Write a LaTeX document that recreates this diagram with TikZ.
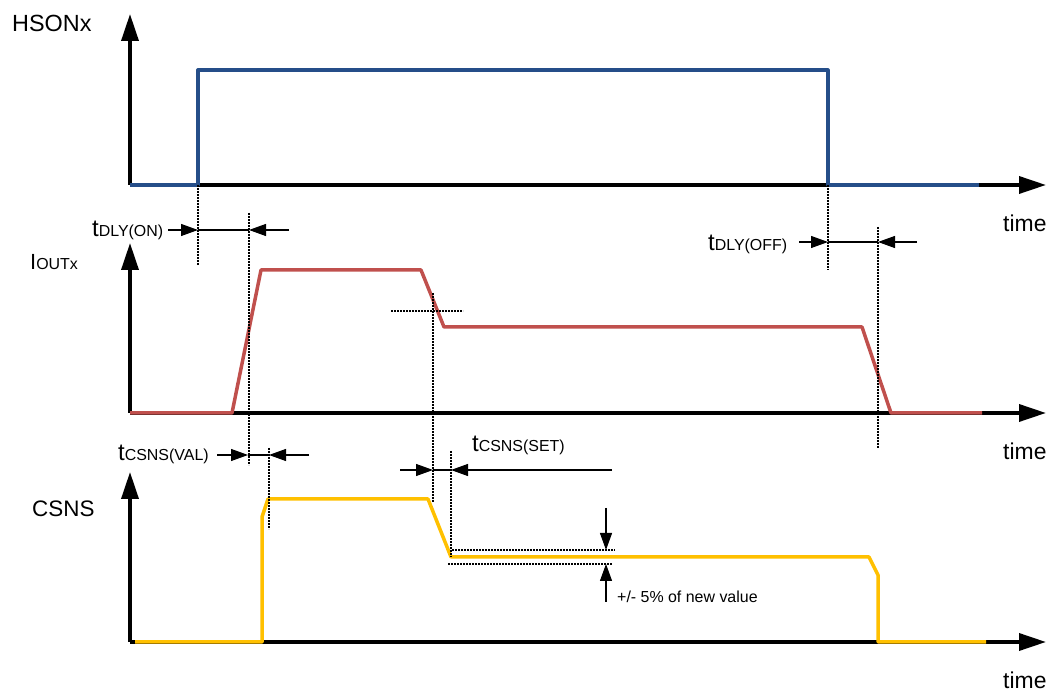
\documentclass[tikz,border=0pt]{standalone}
\usepackage{fontspec}
\setmainfont{Liberation Sans}
\usetikzlibrary{arrows.meta}

\definecolor{hsonblue}{RGB}{37,78,137}
\definecolor{ioutred}{RGB}{192,80,77}
\definecolor{csnsyellow}{RGB}{255,192,0}

% big t with a small name after it on the same baseline
\newcommand{\tname}[1]{{\fontsize{24}{24}\selectfont t}{\fontsize{16}{16}\selectfont #1}}

\begin{document}
\begin{tikzpicture}[line join=round,
  axis/.style={black,line width=3.5bp,-{Triangle[length=27bp,width=17bp]}},
  sig/.style={line width=3.5bp},
  guide/.style={black,line width=2.5bp,dash pattern=on 2bp off 1bp},
  dim/.style={black,line width=1.1bp,-{Triangle[length=17bp,width=12bp]}},
  lab/.style={anchor=base west,inner sep=0pt},
  ]
\useasboundingbox (0bp,0bp) rectangle (1050bp,692bp);
%% axes
\coordinate (o_hs) at (130bp,507bp);
\coordinate (o_io) at (130bp,279bp);
\coordinate (o_cs) at (130bp,50bp);
\draw [axis] (o_hs) -- (130bp,678bp);
\draw [axis] (o_hs) -- (1046bp,507bp);
\draw [axis] (o_io) -- (130bp,449bp);
\draw [axis] (o_io) -- (1046bp,279bp);
\draw [axis] (o_cs) -- (130bp,220bp);
\draw [axis] (o_cs) -- (1046bp,50bp);
%% waveforms
\draw [sig,hsonblue,line width=3.2bp] (130bp,507bp) -- (198bp,507bp) -- (198bp,622bp) -- (828bp,622bp) -- (828bp,507bp) -- (979bp,507bp);
\draw [sig,ioutred] (130bp,279bp) -- (232bp,279bp) -- (261bp,422bp) -- (421bp,422bp) -- (444bp,365bp) -- (862bp,365bp) -- (891bp,279bp) -- (982bp,279bp);
\draw [sig,csnsyellow] (135bp,50bp) -- (262bp,50bp) -- (262bp,175bp) -- (268bp,193bp) -- (428bp,193bp) -- (451bp,135bp) -- (869bp,135bp) -- (878bp,117bp) -- (878bp,50bp) -- (986bp,50bp);
%% dotted guides
\draw [guide] (198bp,507bp) -- (198bp,427bp);
\draw [guide] (249bp,479bp) -- (249bp,227bp);
\draw [guide] (433bp,399bp) -- (433bp,190bp);
\draw [guide] (391bp,381bp) -- (463bp,381bp);
\draw [guide] (269bp,244bp) -- (269bp,163bp);
\draw [guide] (451bp,241bp) -- (451bp,135bp);
\draw [guide] (452bp,142bp) -- (615bp,142bp);
\draw [guide] (448bp,128bp) -- (612bp,128bp);
\draw [guide] (828bp,507bp) -- (828bp,422bp);
\draw [guide] (878bp,465bp) -- (878bp,244bp);
%% timing arrows
\coordinate (don_l) at (198bp,462bp);
\coordinate (don_r) at (249bp,462bp);
\draw [dim] (168bp,462bp) -- (don_l);
\draw [dim] (289bp,462bp) -- (don_r);
\draw [black,line width=1.1bp] (don_l) -- (don_r);
\coordinate (val_l) at (248bp,237bp);
\coordinate (val_r) at (269bp,237bp);
\draw [dim] (217bp,237bp) -- (val_l);
\draw [dim] (309bp,237bp) -- (val_r);
\draw [black,line width=1.1bp] (val_l) -- (val_r);
\coordinate (set_l) at (433bp,222bp);
\coordinate (set_r) at (451bp,222bp);
\draw [dim] (400bp,222bp) -- (set_l);
\draw [dim] (612bp,222bp) -- (set_r);
\draw [black,line width=1.1bp] (set_l) -- (set_r);
\coordinate (doff_l) at (828bp,450bp);
\coordinate (doff_r) at (878bp,450bp);
\draw [dim] (799bp,450bp) -- (doff_l);
\draw [dim] (917bp,450bp) -- (doff_r);
\draw [black,line width=1.1bp] (doff_l) -- (doff_r);
\coordinate (tol_hi) at (606bp,142bp);
\coordinate (tol_lo) at (606bp,128bp);
\draw [dim] (606bp,184bp) -- (tol_hi);
\draw [dim] (606bp,90bp) -- (tol_lo);
%% labels
\node (lab_hs) at (12bp,660bp) [lab] {\fontsize{23.5}{23.5}\selectfont HSONx};
\node (lab_io) at (30bp,422bp) [lab] {{\fontsize{22}{22}\selectfont I}{\fontsize{16}{16}\selectfont OUTx}};
\node (lab_cs) at (32bp,175bp) [lab] {\fontsize{22.5}{22.5}\selectfont CSNS};
\node (time_hs) at (1003bp,460bp) [lab] {\fontsize{23}{23}\selectfont time};
\node (time_io) at (1003bp,232bp) [lab] {\fontsize{23}{23}\selectfont time};
\node (time_cs) at (1003bp,4bp) [lab] {\fontsize{23}{23}\selectfont time};
\node (lab_don) at (92bp,455bp) [lab] {\tname{DLY(ON)}};
\node (lab_val) at (118bp,231bp) [lab] {\tname{CSNS(VAL)}};
\node (lab_set) at (472bp,240bp) [lab] {\tname{CSNS(SET)}};
\node (lab_doff) at (708bp,441bp) [lab] {\tname{DLY(OFF)}};
\node (lab_tol) at (617bp,89bp) [lab] {\fontsize{16}{16}\selectfont +/- 5\% of new value};
%
\end{tikzpicture}
\end{document}
